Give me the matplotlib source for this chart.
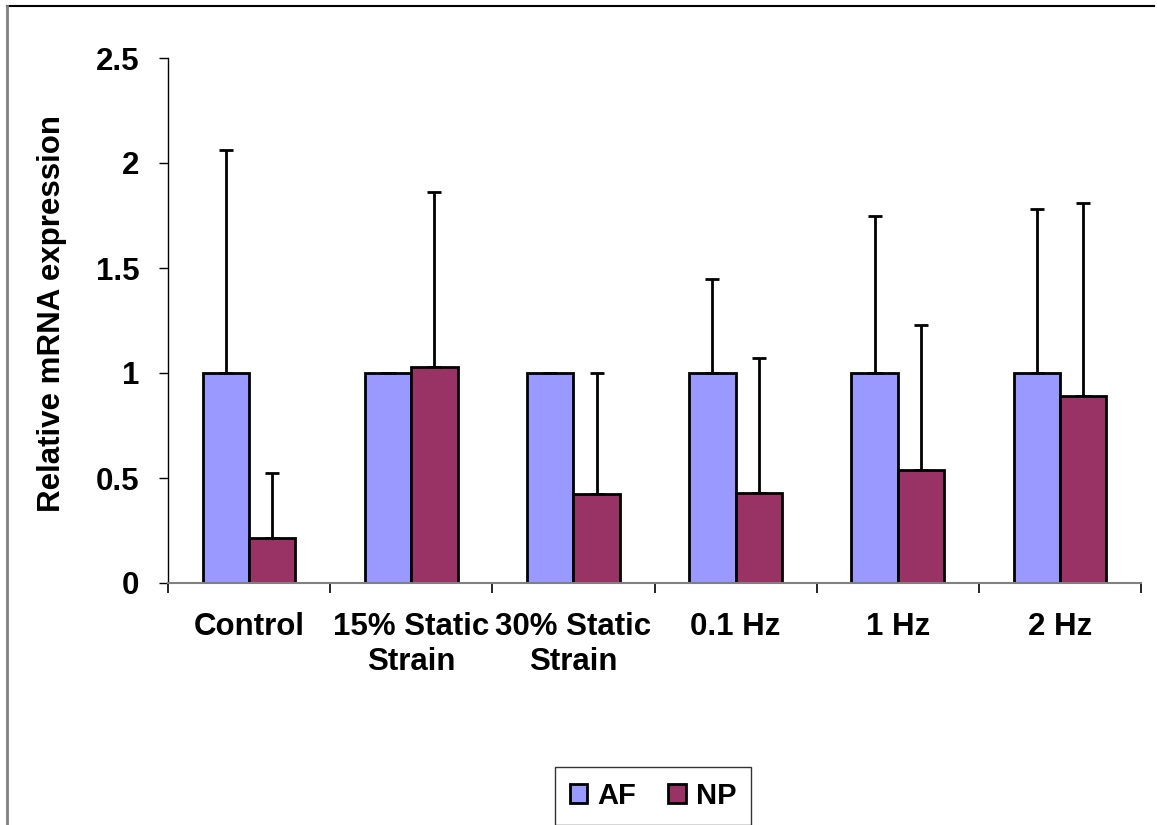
import matplotlib
matplotlib.use("Agg")
import matplotlib.pyplot as plt
import numpy as np
from matplotlib.lines import Line2D
from matplotlib.patches import Patch

categories = ["Control", "15% Static\nStrain", "30% Static\nStrain", "0.1 Hz", "1 Hz", "2 Hz"]
af_values = [1.0, 1.0, 1.0, 1.0, 1.0, 1.0]
af_err = [1.06, 0.0, 0.0, 0.45, 0.75, 0.78]
np_values = [0.215, 1.03, 0.425, 0.43, 0.54, 0.89]
np_err = [0.31, 0.83, 0.575, 0.64, 0.69, 0.92]
series_names = ["AF", "NP"]
colors = ["#9999FF", "#993366"]

plt.rcParams['font.family'] = ['Liberation Sans', 'DejaVu Sans']
plt.rcParams['font.weight'] = 'bold'

W, H = 1157, 825
fig = plt.figure(figsize=(W / 100, H / 100), dpi=100)
ax = fig.add_axes([168 / W, 1 - 583 / H, (1141 - 168) / W, (583 - 58) / H])

x = np.arange(len(categories))
bw = 1 / 3.5
ax.bar(x - bw / 2, af_values, bw, color=colors[0], edgecolor="black", linewidth=2.0, zorder=2)
ax.bar(x + bw / 2, np_values, bw, color=colors[1], edgecolor="black", linewidth=2.0, zorder=2)
ax.errorbar(x - bw / 2, af_values, yerr=[np.zeros(len(x)), af_err], fmt="none",
            ecolor="black", elinewidth=2.0, capsize=4.7, capthick=2.0, zorder=3)
ax.errorbar(x + bw / 2, np_values, yerr=[np.zeros(len(x)), np_err], fmt="none",
            ecolor="black", elinewidth=2.0, capsize=4.7, capthick=2.0, zorder=3)

ax.set_xlim(-0.5, len(categories) - 0.5)
ax.set_ylim(0, 2.5)
ax.set_yticks([0, 0.5, 1, 1.5, 2, 2.5])
ax.set_yticklabels(["0", "0.5", "1", "1.5", "2", "2.5"])
ax.set_xticks(x)
ax.set_xticklabels(categories, fontsize=22.5, fontweight="bold")
ax.set_xticks(np.arange(-0.5, len(categories)), minor=True)
ax.tick_params(axis="x", which="major", length=0, pad=21)
ax.tick_params(axis="x", which="minor", length=7, width=1.2, color="black", direction="out")
ax.tick_params(axis="y", labelsize=22.5, length=6.5, width=1.0, pad=14, direction="out")
for lab in ax.get_yticklabels():
    lab.set_fontweight("bold")

ax.spines["top"].set_visible(False)
ax.spines["right"].set_visible(False)
ax.spines["left"].set_color("black")
ax.spines["left"].set_linewidth(1.0)
ax.spines["bottom"].set_color("#808080")
ax.spines["bottom"].set_linewidth(1.5)

fig.text(52 / W, 1 - 313 / H, "Relative mRNA expression", rotation=90, ha="center", va="center",
         fontsize=22.5, fontweight="bold")

handles = [Patch(facecolor=colors[0], edgecolor="black", linewidth=2.0),
           Patch(facecolor=colors[1], edgecolor="black", linewidth=2.0)]
leg = fig.legend(handles, series_names, loc="center", bbox_to_anchor=(653 / W, 1 - 796 / H),
                 ncol=2, frameon=True, fancybox=False, edgecolor="black",
                 handlelength=0.6, handleheight=0.6, handletextpad=0.35, columnspacing=1.1,
                 borderpad=0.5, borderaxespad=0, prop={"weight": "bold", "size": 21})
leg.get_frame().set_linewidth(1.0)

fig.add_artist(Line2D([7 / W, 1154 / W], [1 - 6 / H, 1 - 6 / H], color="black", linewidth=1.5,
                      transform=fig.transFigure))
fig.add_artist(Line2D([7 / W, 7 / W], [0, 1 - 6 / H], color="#808080", linewidth=2,
                      transform=fig.transFigure))

fig.savefig("out.png", dpi=100)
